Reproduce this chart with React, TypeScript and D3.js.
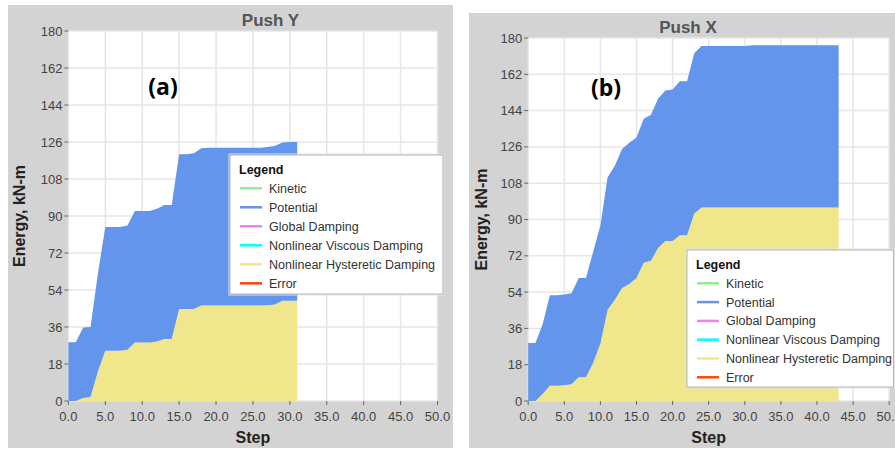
import React from "react";
import * as d3 from "d3";

// Tick values shared by both panels
const stepTicks = [0, 5, 10, 15, 20, 25, 30, 35, 40, 45, 50];
const energyTicks = [0, 18, 36, 54, 72, 90, 108, 126, 144, 162, 180];

// Push Y: energy per step (kN-m), stacked hysteretic + potential
const pushYHysteretic = [
  0, 0, 1.5, 2.0, 14.5, 24.4, 24.4, 24.4, 24.9, 28.4, 28.4, 28.4, 29.0, 30.2, 30.2, 44.7,
  44.7, 44.7, 46.5, 46.5, 46.5, 46.5, 46.5, 46.5, 46.5, 46.5, 46.5, 46.6, 47.0, 48.8, 48.8, 48.8,
];
const pushYPotential = [
  28.6, 28.6, 34.3, 34.0, 47.5, 60.3, 60.3, 60.3, 60.5, 64.0, 64.0, 64.0, 64.5, 65.1, 65.1, 75.3,
  75.3, 75.8, 76.5, 76.7, 76.7, 76.7, 76.7, 76.7, 76.7, 76.7, 76.7, 77.0, 77.2, 77.0, 77.2, 77.2,
];

// Push X: energy per step (kN-m), stacked hysteretic + potential
const pushXHysteretic = [
  0, 0, 3.5, 7.6, 7.6, 7.8, 8.3, 11.8, 11.8, 19.0, 28.5, 45.3, 50.2, 56.0, 58.0, 61.0,
  68.5, 69.5, 76.0, 79.3, 79.3, 82.2, 82.2, 93.0, 95.9, 95.9, 95.9, 95.9, 95.9, 95.9, 95.9, 95.9,
  95.9, 95.9, 95.9, 95.9, 95.9, 95.9, 95.9, 95.9, 95.9, 95.9, 95.9, 95.9,
];
const pushXPotential = [
  28.7, 28.7, 34.5, 44.8, 44.8, 45.0, 45.1, 49.2, 49.2, 55.0, 58.5, 65.7, 66.4, 69.0, 70.0, 69.7,
  71.5, 72.5, 74.0, 74.7, 75.2, 76.4, 76.4, 79.5, 80.1, 80.1, 80.1, 80.1, 80.1, 80.1, 80.1, 80.5,
  80.5, 80.5, 80.5, 80.5, 80.5, 80.5, 80.5, 80.5, 80.5, 80.5, 80.5, 80.5,
];

const legendLabels = [
  "Kinetic",
  "Potential",
  "Global Damping",
  "Nonlinear Viscous Damping",
  "Nonlinear Hysteretic Damping",
  "Error",
];

const COLORS: Record<string, string> = {
  Kinetic: "#90ee90",
  Potential: "#6495ed",
  "Global Damping": "#ee82ee",
  "Nonlinear Viscous Damping": "#00ffff",
  "Nonlinear Hysteretic Damping": "#f0e68c",
  Error: "#ff4500",
};

const FONT = "'Liberation Sans', Arial, sans-serif";
const PANEL_BG = "#d3d3d3";
const GRID = "#e6e6e6";

type Frame = {
  bg: { x: number; y: number; w: number; h: number };
  plot: { left: number; right: number; top: number; bottom: number };
  titleX: number;
  titleY: number;
  tagX: number;
  tagY: number;
  yLabelX: number;
  legend: { x: number; y: number; w: number; h: number; rowGap: number };
};

type PanelProps = {
  title: string;
  tag: string;
  hysteretic: number[];
  potential: number[];
  frame: Frame;
};

function Panel({ title, tag, hysteretic, potential, frame }: PanelProps) {
  const { plot, bg, legend } = frame;
  const x = d3.scaleLinear().domain([0, 50]).range([plot.left, plot.right]);
  const y = d3.scaleLinear().domain([0, 180]).range([plot.bottom, plot.top]);

  const rows = hysteretic.map((h, i) => ({ step: i, hysteretic: h, potential: potential[i] }));
  const stacked = d3.stack<any>().keys(["hysteretic", "potential"])(rows);
  const area = d3
    .area<any>()
    .x((d) => x(d.data.step))
    .y0((d) => y(d[0]))
    .y1((d) => y(d[1]))
    .curve(d3.curveLinear);

  const fillFor: Record<string, string> = {
    hysteretic: COLORS["Nonlinear Hysteretic Damping"],
    potential: COLORS.Potential,
  };

  const plotMidX = (plot.left + plot.right) / 2;
  const plotMidY = (plot.top + plot.bottom) / 2;
  const fmt = d3.format(".1f");

  return (
    <g>
      <rect x={bg.x} y={bg.y} width={bg.w} height={bg.h} fill={PANEL_BG} />
      <text
        x={frame.titleX}
        y={frame.titleY}
        textAnchor="middle"
        fontFamily={FONT}
        fontWeight="bold"
        fontSize={17}
        fill="#555"
      >
        {title}
      </text>
      <rect
        x={plot.left}
        y={plot.top}
        width={plot.right - plot.left}
        height={plot.bottom - plot.top}
        fill="#fff"
      />
      {/* grid */}
      {stepTicks.map((t) => (
        <line key={"gx" + t} x1={x(t)} x2={x(t)} y1={plot.top} y2={plot.bottom} stroke={GRID} strokeWidth={1.5} />
      ))}
      {energyTicks.map((t) => (
        <line key={"gy" + t} x1={plot.left} x2={plot.right} y1={y(t)} y2={y(t)} stroke={GRID} strokeWidth={1.5} />
      ))}
      {/* stacked energy areas */}
      {stacked.map((s) => (
        <path key={s.key} d={area(s) || ""} fill={fillFor[s.key]} />
      ))}
      {/* y axis */}
      {energyTicks.map((t) => (
        <g key={"ty" + t}>
          <line x1={plot.left - 4} x2={plot.left} y1={y(t)} y2={y(t)} stroke="#666" strokeWidth={1} />
          <text
            x={plot.left - 6}
            y={y(t) + 4.5}
            textAnchor="end"
            fontFamily={FONT}
            fontSize={13}
            fill="#444"
          >
            {t}
          </text>
        </g>
      ))}
      {/* x axis */}
      {stepTicks.map((t) => (
        <g key={"tx" + t}>
          <line x1={x(t)} x2={x(t)} y1={plot.bottom} y2={plot.bottom + 4} stroke="#666" strokeWidth={1} />
          <text x={x(t)} y={plot.bottom + 20} textAnchor="middle" fontFamily={FONT} fontSize={13} fill="#444">
            {fmt(t)}
          </text>
        </g>
      ))}
      <text
        x={plotMidX}
        y={443}
        textAnchor="middle"
        fontFamily={FONT}
        fontWeight="bold"
        fontSize={16}
        fill="#222"
      >
        Step
      </text>
      <text
        transform={`translate(${frame.yLabelX},${plotMidY}) rotate(-90)`}
        textAnchor="middle"
        fontFamily={FONT}
        fontWeight="bold"
        fontSize={16}
        fill="#222"
      >
        Energy, kN-m
      </text>
      <text
        x={frame.tagX}
        y={frame.tagY}
        textAnchor="middle"
        fontFamily="'Open Sans', 'Noto Sans', sans-serif"
        fontWeight="bold"
        fontSize={23}
        fill="#000"
      >
        {tag}
      </text>
      {/* legend */}
      <g>
        <rect
          x={legend.x - 1}
          y={legend.y - 1}
          width={legend.w + 2}
          height={legend.h + 2}
          fill="none"
          stroke="#e4e4e4"
          strokeWidth={1}
        />
        <rect x={legend.x} y={legend.y} width={legend.w} height={legend.h} fill="#fff" stroke="#b4b4b4" strokeWidth={1} />
        <text
          x={legend.x + 9}
          y={legend.y + 18.5}
          fontFamily={FONT}
          fontWeight="bold"
          fontSize={12.5}
          fill="#111"
        >
          Legend
        </text>
        {legendLabels.map((label, i) => {
          const cy = legend.y + 33.3 + i * legend.rowGap;
          return (
            <g key={label}>
              <line
                x1={legend.x + 10}
                x2={legend.x + 32}
                y1={cy}
                y2={cy}
                stroke={COLORS[label]}
                strokeWidth={2.5}
              />
              <text x={legend.x + 39} y={cy + 4.4} fontFamily={FONT} fontSize={12.5} fill="#333">
                {label}
              </text>
            </g>
          );
        })}
      </g>
    </g>
  );
}

const frameY: Frame = {
  bg: { x: 8, y: 5, w: 445, h: 443 },
  plot: { left: 68.4, right: 437.5, top: 31, bottom: 401 },
  titleX: 270.5,
  titleY: 25.5,
  tagX: 163,
  tagY: 95,
  yLabelX: 25,
  legend: { x: 230, y: 155, w: 213, h: 139, rowGap: 19 },
};

const frameX: Frame = {
  bg: { x: 469, y: 13, w: 430, h: 435 },
  plot: { left: 528.2, right: 889.2, top: 38, bottom: 401 },
  titleX: 688,
  titleY: 33.3,
  tagX: 606,
  tagY: 96,
  yLabelX: 486.5,
  legend: { x: 687, y: 250, w: 206.5, h: 137, rowGap: 18.8 },
};

export default function App() {
  return (
    <div style={{ position: "absolute", left: 0, top: 0 }}>
      <svg width={895} height={450} viewBox="0 0 895 450" style={{ display: "block", background: "#fff" }}>
        <Panel title="Push Y" tag="(a)" hysteretic={pushYHysteretic} potential={pushYPotential} frame={frameY} />
        <Panel title="Push X" tag="(b)" hysteretic={pushXHysteretic} potential={pushXPotential} frame={frameX} />
      </svg>
    </div>
  );
}
